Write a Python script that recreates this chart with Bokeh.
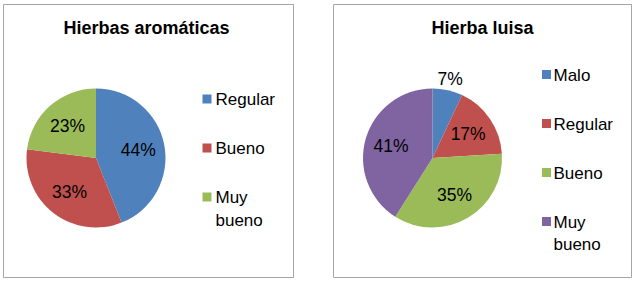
import math
from bokeh.plotting import figure
from bokeh.layouts import row
from bokeh.models import Range1d
from bokeh.core.properties import value
from bokeh.embed import file_html
from bokeh.resources import INLINE

# ---- data ----
left_title = "Hierbas aromáticas"
left_categories = ["Regular", "Bueno", "Muy bueno"]
left_values = [44, 33, 23]
left_colors = ["#4F81BD", "#C0504D", "#9BBB59"]

right_title = "Hierba luisa"
right_categories = ["Malo", "Regular", "Bueno", "Muy bueno"]
right_values = [7, 17, 35, 41]
right_colors = ["#4F81BD", "#C0504D", "#9BBB59", "#8064A2"]

FONT = value("Liberation Sans")
H = 283


def panel(title, cats, vals, colors, fig_w, border_left, frame_x0, frame_x1,
          frame_y0, frame_y1, title_x, cx, cy_px, r, sq_x, txt_x):
    p = figure(width=fig_w, height=H, output_backend="svg", toolbar_location=None,
               x_range=Range1d(frame_x0, frame_x1),
               y_range=Range1d(H - frame_y1, H - frame_y0),
               x_axis_type=None, y_axis_type=None,
               min_border=0,
               min_border_left=border_left,
               min_border_right=fig_w - border_left - (frame_x1 - frame_x0),
               min_border_top=frame_y0,
               min_border_bottom=H - frame_y1)
    p.grid.visible = False
    p.outline_line_color = "#A6A6A6"
    p.outline_line_width = 1
    p.background_fill_color = "white"
    p.border_fill_color = "white"

    # title
    p.text(x=[title_x], y=[H - 27], text=[title], text_font=FONT,
           text_font_size="18px", text_font_style="bold", text_color="#000000",
           text_align="center", text_baseline="middle")

    cy = H - cy_px
    total = float(sum(vals))
    starts, ends = [], []
    c = 0.0
    for v in vals:
        starts.append(math.pi / 2 - 2 * math.pi * c / total)
        c += v
        ends.append(math.pi / 2 - 2 * math.pi * c / total)
    p.wedge(x=cx, y=cy, radius=r, start_angle=starts, end_angle=ends,
            direction="clock", fill_color=colors, line_color=None)

    # percentage labels
    lx, ly, lt = [], [], []
    for v, s, e in zip(vals, starts, ends):
        mid = (s + e) / 2
        rr = r * 0.62 if v / total >= 0.1 else r * 1.17
        lx.append(cx + rr * math.cos(mid))
        ly.append(cy + rr * math.sin(mid))
        lt.append(f"{v}%")
    p.text(x=lx, y=ly, text=lt, text_font=FONT, text_font_size="17.5px",
           text_color="#000000", text_align="center", text_baseline="middle")

    # legend
    n = len(cats)
    rows_px = [cy_px - 10 + (i - (n - 1) / 2) * 49 for i in range(n)]
    p.rect(x=[sq_x] * n, y=[H - y for y in rows_px], width=9, height=9,
           fill_color=colors, line_color=None)
    p.text(x=[txt_x] * n, y=[H - (y - 9) for y in rows_px],
           text=[c_.replace(" ", "\n") for c_ in cats], text_font=FONT,
           text_font_size="17px", text_color="#000000", text_align="left",
           text_baseline="top", text_line_height=1.2)
    return p


left = panel(left_title, left_categories, left_values, left_colors,
             298, 3, 3, 293, 4, 277, 146, 95.5, 157.5, 69.5, 206.5, 215)
right = panel(right_title, right_categories, right_values, right_colors,
              336, 35, 333, 631, 4, 277, 482, 432, 157.5, 69.5, 546, 553)

layout = row(left, right, spacing=0)
open("out.html", "w").write(file_html(layout, INLINE))
